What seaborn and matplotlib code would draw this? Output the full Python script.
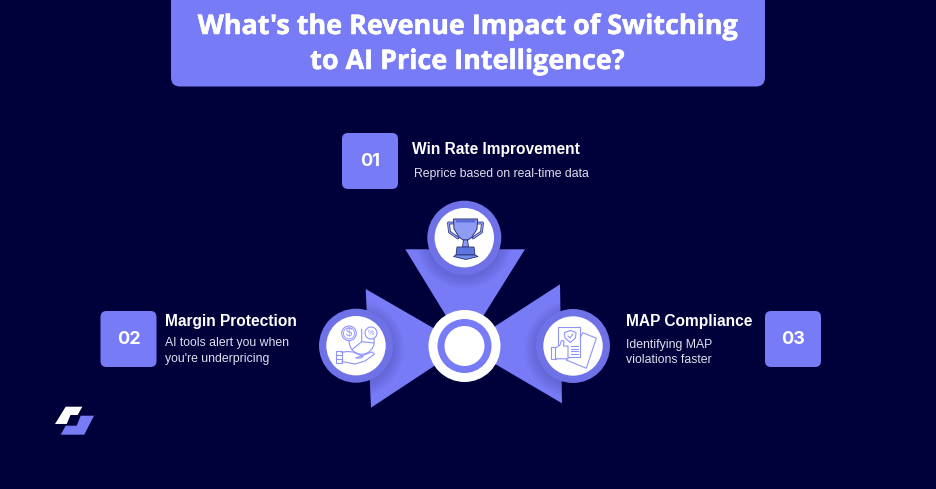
import numpy as np
import seaborn as sns
import matplotlib.pyplot as plt
import matplotlib.patheffects as pe
from matplotlib.patches import Circle, FancyBboxPatch, Polygon, Rectangle

sns.set_theme(style="white")
plt.rcParams['font.family'] = ['Liberation Sans', 'DejaVu Sans']

title_lines = ["What's the Revenue Impact of Switching", "to AI Price Intelligence?"]
numbers = ["01", "02", "03"]
headings = ["Win Rate Improvement", "Margin Protection", "MAP Compliance"]
details = [["Reprice based on real-time data"],
           ["AI tools alert you when", "you're underpricing"],
           ["Identifying MAP", "violations faster"]]

BG = '#00003a'
PURPLE = '#777bf5'
ICON = '#8f93f8'

# axes in picture pixels, y goes down
fig = plt.figure(figsize=(9.36, 4.8901), dpi=100, facecolor=BG)
ax = fig.add_axes([0, 0, 1, 1])
ax.set_xlim(0, 936)
ax.set_ylim(489, 0)
ax.set_facecolor(BG)
ax.axis('off')


def box(x0, y0, x1, y1, r, color=PURPLE, z=2):
    ax.add_patch(FancyBboxPatch((x0 + r, y0 + r), x1 - x0 - 2 * r, y1 - y0 - 2 * r,
                                boxstyle=f'round,pad={r},rounding_size={r}',
                                fc=color, ec='none', zorder=z))


def line(xs, ys, color=ICON, lw=0.8, z=6):
    ax.plot(xs, ys, color=color, lw=lw, zorder=z, solid_capstyle='round', solid_joinstyle='round')


# title banner
box(171, -20, 765, 86.5, 9)
for text, y in zip(title_lines, [27, 62]):
    t = ax.text(467, y, text, color='white', fontsize=19.4, fontweight='bold',
                family=['Open Sans', 'DejaVu Sans'], ha='center', va='center', zorder=3)
    t.set_path_effects([pe.withStroke(linewidth=0.4, foreground='white')])

# number badges and text blocks
badge_x = [342, 100.5, 765]
badge_y = [133, 311, 311]
for num, bx, by in zip(numbers, badge_x, badge_y):
    box(bx, by, bx + 56, by + 56, 6)
    ax.text(bx + 28, by + 28, num, color='white', fontsize=13, fontweight='bold',
            family=['Inter', 'DejaVu Sans'], ha='center', va='center', zorder=3)

head_pos = [(412, 149), (165, 321.5), (626, 321.5)]
for text, (x, y) in zip(headings, head_pos):
    ax.text(x, y, text, color='white', fontsize=11.2, fontweight='bold', ha='left', va='center')

detail_pos = [[(414, 174)], [(165, 343), (165, 358.5)], [(626, 344.5), (626, 360)]]
for lines, poss in zip(details, detail_pos):
    for text, (x, y) in zip(lines, poss):
        ax.text(x, y, text, color='#dfe0ee', fontsize=8.8, ha='left', va='center')

# three arrow wedges pointing to the hub
hub = (464.5, 346)
wedges = [[(405.3, 249.3), (525, 249.3), hub],
          [(365.7, 289), (371, 407.7), hub],
          [(560, 284.3), (562, 403.3), hub]]
rings = [(464.3, 237.7), (356, 345.7), (573, 346)]
for pts, (cx, cy) in zip(wedges, rings):
    tri = Polygon(pts, fc=PURPLE, ec='none', zorder=2)
    ax.add_patch(tri)
    # soft shadow of the ring on the wedge
    for r in np.linspace(38, 48, 6):
        c = Circle((cx, cy + 3), r, fc='#20206a', ec='none', alpha=0.035, zorder=2.5)
        ax.add_patch(c)
        c.set_clip_path(tri)

# hub
ax.add_patch(Circle(hub, 36, fc='white', ec='none', zorder=4))
ax.add_patch(Circle(hub, 27, fc=PURPLE, ec='none', zorder=4))
ax.add_patch(Circle(hub, 20, fc='white', ec='none', zorder=4))

# icon rings
for (cx, cy) in rings:
    ax.add_patch(Circle((cx, cy), 37, fc='#6f71e6', ec='none', zorder=4))
    ax.add_patch(Circle((cx, cy), 29.7, fc='white', ec='none', zorder=5))

# trophy
DARK = '#2a3070'
CUP = '#8f9cf5'
line([454, 448.5, 449.5, 458], [223, 223, 232, 238], color=DARK, lw=2.0)
line([454, 448.5, 449.5, 458], [223, 223, 232, 238], color=CUP, lw=1.0)
line([477, 482.5, 481.5, 473], [223, 223, 232, 238], color=DARK, lw=2.0)
line([477, 482.5, 481.5, 473], [223, 223, 232, 238], color=CUP, lw=1.0)
ax.add_patch(Polygon([(453.5, 219), (477.5, 219), (477, 229), (472, 237), (468, 240), (463, 240),
                      (459, 237), (454, 229)], fc=CUP, ec=DARK, lw=0.7, zorder=6))
ax.add_patch(Polygon([(455.5, 220), (475.5, 220), (475, 222.5), (456, 222.5)], fc='#5a6ad8', ec='none', zorder=6))
ax.add_patch(Polygon([(463.5, 240), (467.5, 240), (468.5, 247), (462.5, 247)], fc=CUP, ec=DARK, lw=0.6, zorder=6))
ax.add_patch(Polygon([(457, 247), (474, 247), (475, 255), (456, 255)], fc='#5c78e0', ec=DARK, lw=0.6, zorder=6))
ax.add_patch(Polygon([(456, 255), (475, 255), (478, 256.5), (466, 259.5), (453.5, 256.5)],
                     fc='#6f8cec', ec=DARK, lw=0.6, zorder=6))

# hand with coins
a = np.radians(np.linspace(-20, 200, 40))
line(361.7 + 12.5 * np.cos(a), 341.7 + 12.5 * np.sin(a))
line([361.7, 361.7, 374], [329.2, 341.7, 343])
line([361.7, 352], [341.7, 349.5])
ax.add_patch(Circle((349, 333.3), 7.3, fc='white', ec=ICON, lw=0.8, zorder=6))
ax.add_patch(Circle((349, 333.3), 5.6, fc='white', ec=ICON, lw=0.6, zorder=6))
ax.text(349, 333.3, '$', color=ICON, fontsize=8, ha='center', va='center', zorder=7)
ax.add_patch(Circle((371, 333), 6, fc='white', ec=ICON, lw=0.8, zorder=6))
ax.text(371, 333, '%', color=ICON, fontsize=5, ha='center', va='center', zorder=7)
ax.add_patch(Rectangle((335.7, 350.7), 6, 12.5, fc='white', ec=ICON, lw=0.8, zorder=6))
line([335.7, 341.7], [355, 355])
line([335.7, 341.7], [359, 359])
line([341.7, 347, 353, 360, 363, 361, 356], [352.5, 351.5, 352, 355, 356.5, 358, 358])
line([356, 372, 374.5, 365, 355, 341.7], [358, 352, 354, 361, 364, 361.5])

# document with thumb
ax.add_patch(Polygon([(583, 332.7), (596.3, 338.3), (586.3, 368.3), (566.3, 360)], fc='white', ec=ICON, lw=0.8, zorder=6))
ax.add_patch(Rectangle((558, 327.3), 21.7, 29.4, fc='white', ec=ICON, lw=0.8, zorder=6))
ax.add_patch(Polygon([(564.5, 332.5), (570.3, 330.5), (576, 332.5), (575.5, 338), (570.3, 342.5), (565, 338)],
                     fc='white', ec=ICON, lw=0.8, zorder=7))
line([568, 570, 573], [336, 338, 334], z=7)
for y in [346, 348.7, 351.4, 354]:
    line([571, 578], [y, y], z=7)
ax.add_patch(Rectangle((551.3, 347.3), 4.2, 11.5, fc='white', ec=ICON, lw=0.8, zorder=8))
ax.add_patch(Polygon([(555.5, 348), (560, 345), (561.5, 340.5), (564, 341), (563.5, 346), (568, 346),
                      (568, 358.8), (555.5, 358.8)], fc='white', ec=ICON, lw=0.8, zorder=8))

# logo
ax.add_patch(Polygon([(65.7, 406.7), (82.3, 406.7), (77.7, 415), (70.5, 415), (66.7, 424), (55, 424)], fc='white', ec='none', zorder=3))
ax.add_patch(Polygon([(80.7, 415.7), (94, 415.7), (84.3, 434.7), (60.7, 434.7), (65.7, 425.7), (76.7, 425.7)], fc=PURPLE, ec='none', zorder=3))

fig.savefig('out.png', dpi=100, facecolor=BG)
